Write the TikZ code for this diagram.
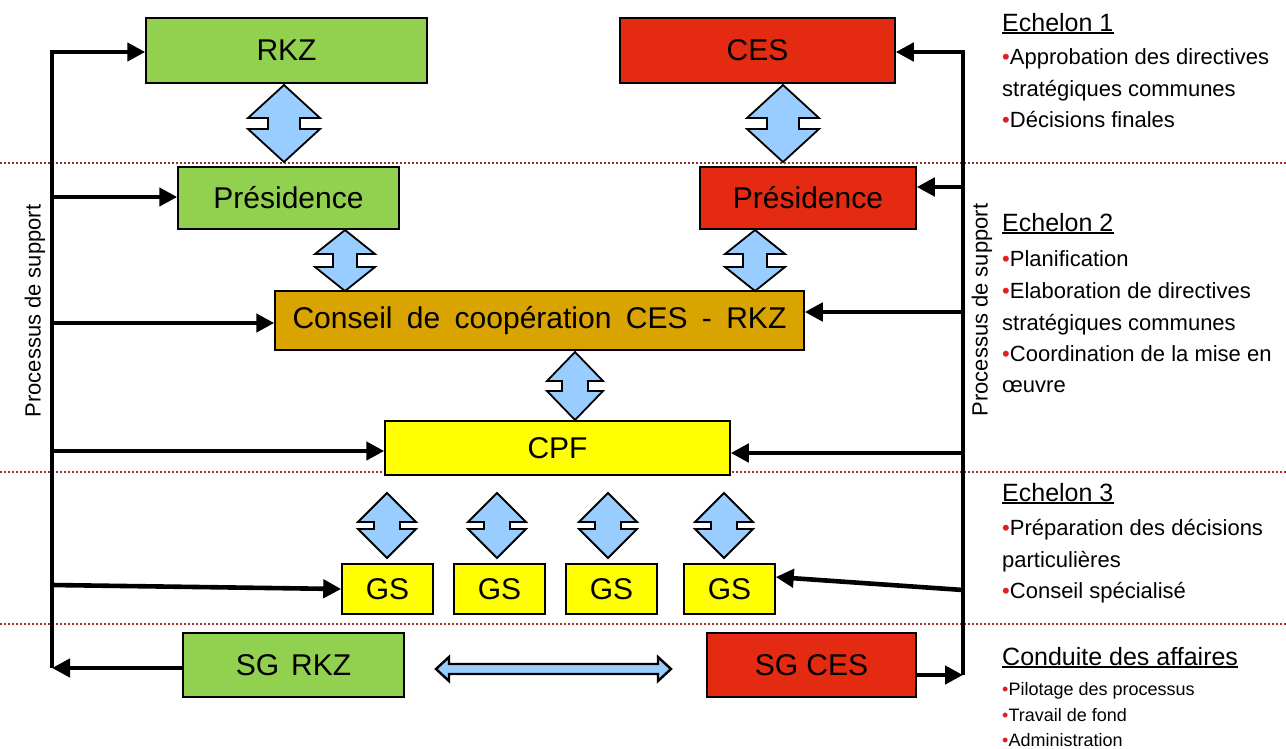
\documentclass[tikz,border=0pt]{standalone}
\usepackage{fontspec}
\setmainfont{Liberation Sans}
\usetikzlibrary{arrows.meta,calc}
\definecolor{cgreen}{HTML}{92D050}
\definecolor{cred}{HTML}{E42A10}
\definecolor{cgold}{HTML}{D9A300}
\definecolor{cyel}{HTML}{FFFF00}
\definecolor{cblue}{HTML}{99CCFF}
\definecolor{cdot}{HTML}{993333}
\definecolor{cbul}{HTML}{E02020}
\newcommand{\udarrow}[6]{%
 \draw[barrow] (#1,#2) -- (#1+#4,#2+#6) -- (#1+#5,#2+#6) -- (#1+#5,#3-#6) -- (#1+#4,#3-#6) -- (#1,#3) -- (#1-#4,#3-#6) -- (#1-#5,#3-#6) -- (#1-#5,#2+#6) -- (#1-#4,#2+#6) -- cycle;}
\newcommand{\bul}{{\color{cbul}•}}
\begin{document}
\begin{tikzpicture}[x=1pt,y=-1pt,
 box/.style={draw=black,line width=1.5pt,inner sep=0pt,font=\fontsize{30}{36}\selectfont},
 link/.style={line width=4.6pt,-{Triangle[length=18pt,width=18pt]}},
 sep/.style={cdot,line width=2pt,dash pattern=on 2pt off 2pt},
 barrow/.style={draw=black,fill=cblue,line width=1.8pt,line join=miter},
 ttl/.style={anchor=base west,inner sep=0pt,font=\fontsize{25}{30}\selectfont},
 itm/.style={anchor=base west,inner sep=0pt,font=\fontsize{22}{26}\selectfont},
 itms/.style={anchor=base west,inner sep=0pt,font=\fontsize{18}{22}\selectfont},
 vlab/.style={rotate=90,inner sep=0pt,font=\fontsize{22}{26}\selectfont},
 uline/.style={line width=1.6pt}
]
\useasboundingbox (0,0) rectangle (1286,748);
% separators
\draw[sep] (0,163) -- (1286,163);
\draw[sep] (0,472) -- (1286,472);
\draw[sep] (0,624) -- (1286,624);
% boxes
\node[box,fill=cgreen,minimum width=281pt,minimum height=65pt] (rkz) at (286.5,50.5) {RKZ};
\node[box,fill=cred,minimum width=275pt,minimum height=65pt] (ces) at (757.5,50.5) {CES};
\node[box,fill=cgreen,minimum width=221pt,minimum height=62pt] (presl) at (288.5,198) {Présidence};
\node[box,fill=cred,minimum width=216pt,minimum height=62pt] (presr) at (808,198) {Présidence};
\node[box,fill=cgold,minimum width=529pt,minimum height=59pt] (conseil) at (539.5,320.5) {\spaceskip=0.48em Conseil de coopération CES - RKZ};
\node[box,fill=cyel,minimum width=345pt,minimum height=54pt] (cpf) at (557.5,448) {CPF};
\node[box,fill=cyel,minimum width=91pt,minimum height=50pt] (gs1) at (387.5,589) {GS};
\node[box,fill=cyel,minimum width=91pt,minimum height=50pt] (gs2) at (499.5,589) {GS};
\node[box,fill=cyel,minimum width=91pt,minimum height=50pt] (gs3) at (611.5,589) {GS};
\node[box,fill=cyel,minimum width=91pt,minimum height=50pt] (gs4) at (729.5,589) {GS};
\node[box,fill=cgreen,minimum width=221pt,minimum height=64pt] (sgrkz) at (293.5,665) {\spaceskip=0.4em SG RKZ};
\node[box,fill=cred,minimum width=209pt,minimum height=64pt] (sgces) at (811.5,665) {SG CES};
% spines
\coordinate (lt) at (52,52);
\coordinate (lb) at (52,668);
\coordinate (l2) at (52,197);
\coordinate (l3) at (52,323);
\coordinate (l4) at (52,451);
\coordinate (l5) at (52,585);
\coordinate (rt) at (963,52);
\coordinate (rb) at (963,675);
\coordinate (r2) at (963,187);
\coordinate (r3) at (963,312);
\coordinate (r4) at (963,453);
\coordinate (r5) at (963,590);
\draw[link,line join=miter] (lb) -- (lt) -- (lt -| rkz.west);
\draw[link] (l2) -- (l2 -| presl.west);
\draw[link] (l3) -- (l3 -| conseil.west);
\draw[link] (l4) -- (l4 -| cpf.west);
\draw[link] (l5) -- (gs1.west);
\draw[link] (sgrkz.west |- lb) -- (lb);
\draw[link,line join=miter] (rb) -- (rt) -- (rt -| ces.east);
\draw[link] (r2) -- (r2 -| presr.east);
\draw[link] (r3) -- (r3 -| conseil.east);
\draw[link] (r4) -- (r4 -| cpf.east);
\draw[link] (r5) -- ([yshift=12pt]gs4.east);
\draw[link] (sgces.east |- rb) -- (rb);
% block arrows
\udarrow{284}{85}{162}{36}{16}{33}
\udarrow{783}{85}{162}{36}{16}{33}
\udarrow{345}{230}{291}{30}{12}{24}
\udarrow{755}{230}{291}{30}{12}{24}
\udarrow{575}{352}{420}{28}{13}{29}
\udarrow{387}{493}{558}{29}{13}{29}
\udarrow{497}{493}{558}{29}{13}{29}
\udarrow{608}{493}{558}{29}{13}{29}
\udarrow{724}{493}{558}{29}{13}{29}
\draw[barrow,line width=2.4pt] (436,669) -- (449,657) -- (449,664) -- (658,664) -- (658,657) -- (671,669) -- (658,681) -- (658,674) -- (449,674) -- (449,681) -- cycle;
% vertical labels
\node[vlab] (vl) at (35,311) {Processus de support};
\node[vlab] (vr) at (982,310) {Processus de support};
% right texts
\node[ttl] (e1t) at (1002,31) {Echelon 1};
\draw[uline] ([yshift=-2pt]e1t.base west) -- ([yshift=-2pt]e1t.base east);
\node[itm] (e1a) at (1002,64) {\bul Approbation des directives};
\node[itm] (e1b) at (1002,96) {stratégiques communes};
\node[itm] (e1c) at (1002,127) {\bul Décisions finales};
\node[ttl] (e2t) at (1002,231) {Echelon 2};
\draw[uline] ([yshift=-2pt]e2t.base west) -- ([yshift=-2pt]e2t.base east);
\node[itm] (e2a) at (1002,266) {\bul Planification};
\node[itm] (e2b) at (1002,298) {\bul Elaboration de directives};
\node[itm] (e2c) at (1002,330) {stratégiques communes};
\node[itm] (e2d) at (1002,361) {\bul Coordination de la mise en};
\node[itm] (e2e) at (1002,392) {œuvre};
\node[ttl] (e3t) at (1002,501) {Echelon 3};
\draw[uline] ([yshift=-2pt]e3t.base west) -- ([yshift=-2pt]e3t.base east);
\node[itm] (e3a) at (1002,535) {\bul Préparation des décisions};
\node[itm] (e3b) at (1002,567) {particulières};
\node[itm] (e3c) at (1002,598) {\bul Conseil spécialisé};
\node[ttl] (e4t) at (1002,665) {Conduite des affaires};
\draw[uline] ([yshift=-2pt]e4t.base west) -- ([yshift=-2pt]e4t.base east);
\node[itms] (e4a) at (1002,695) {\bul Pilotage des processus};
\node[itms] (e4b) at (1002,721) {\bul Travail de fond};
\node[itms] (e4c) at (1002,746) {\bul Administration};
\end{tikzpicture}
\end{document}
